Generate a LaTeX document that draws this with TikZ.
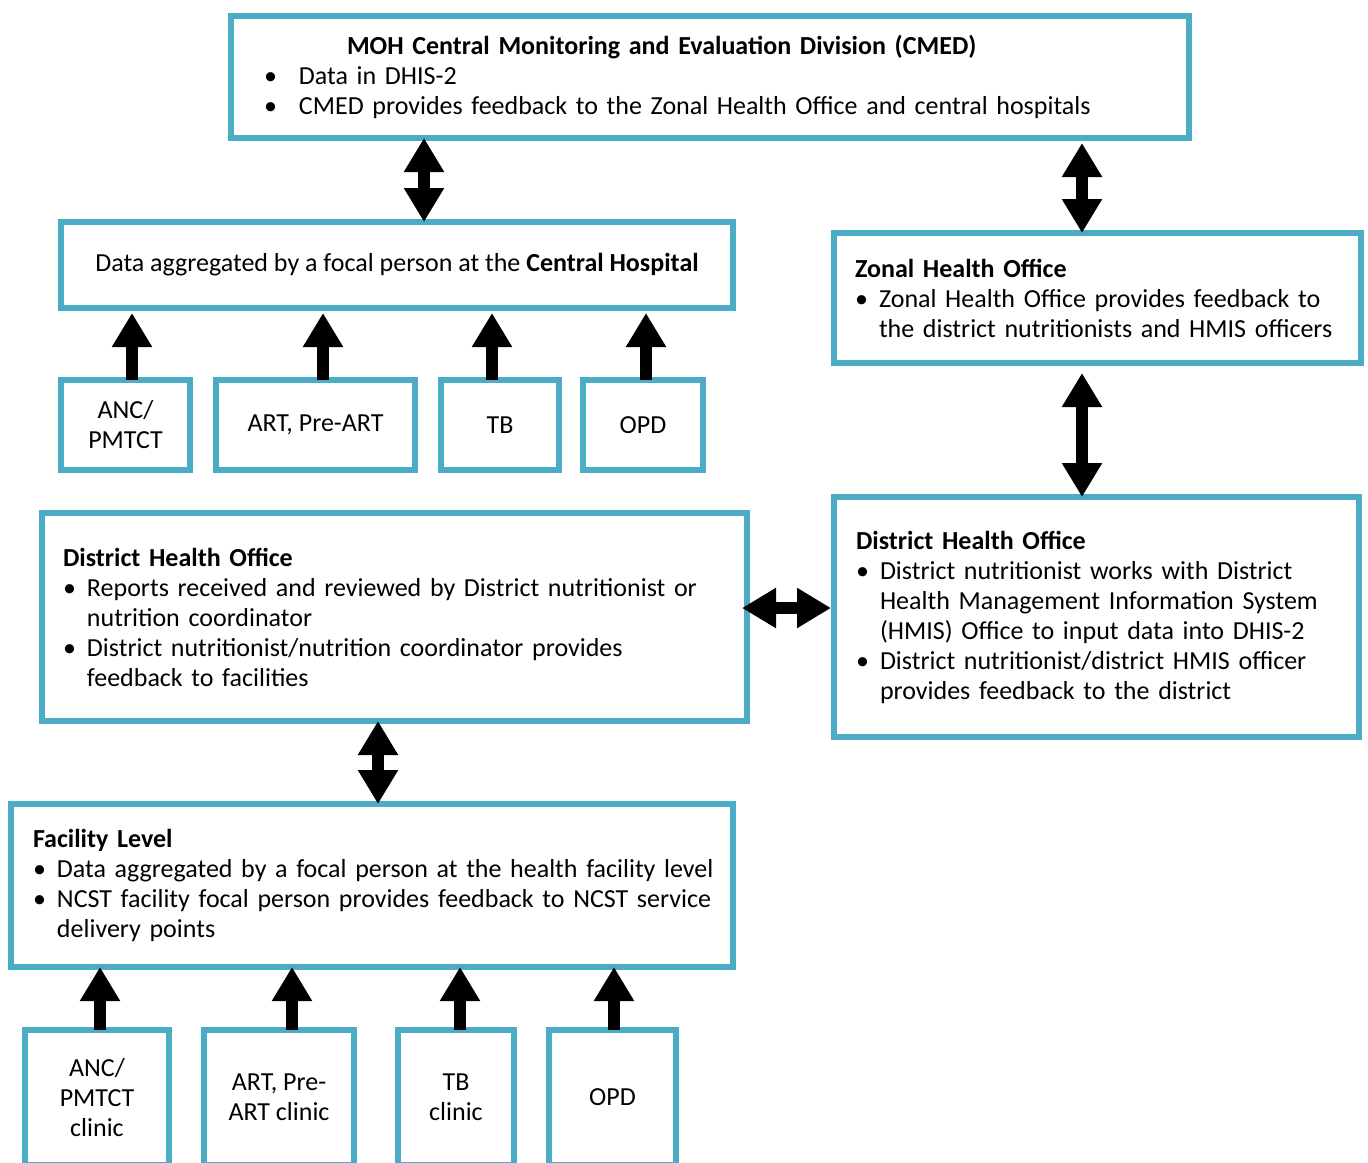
\documentclass[tikz,border=0pt]{standalone}
\usepackage{fontspec}
\setmainfont{Carlito}
\usetikzlibrary{arrows.meta}
\definecolor{boxblue}{RGB}{75,172,198}
\hyphenpenalty=10000
\newcommand{\bul}{\makebox[24pt][l]{\textbullet}}
\newcommand{\ind}{\hspace*{24pt}}
\tikzset{
  panel/.style={draw=boxblue, line width=6pt, fill=white, inner xsep=21pt, inner ysep=0pt,
                outer sep=0pt, align=left, font=\fontsize{26}{30}\selectfont},
  unit/.style={panel, inner xsep=0pt, align=center},
  flow/.style={line width=12pt, -{Triangle[width=38pt,length=34pt]}},
  twoway/.style={line width=12pt, {Triangle[width=38pt,length=34pt]}-{Triangle[width=38pt,length=34pt]}}
}

\begin{document}
\begin{tikzpicture}[x=1pt, y=-1pt]
  \useasboundingbox (0,0) rectangle (1368,1162);
  % upper level
  \node[panel, inner xsep=33pt, text width=892pt, minimum height=122pt] (cmed) at (710,77)
     {\hspace*{83pt}\textbf{MOH Central Monitoring and Evaluation Division (CMED)}\\
      \makebox[35pt][l]{\textbullet}Data in DHIS-2\\
      \makebox[35pt][l]{\textbullet}CMED provides feedback to the Zonal Health Office and central hospitals};
  \node[unit, minimum width=672pt, minimum height=86pt] (central) at (397,265)
     {Data aggregated by a focal person at the \textbf{Central Hospital}};
  \node[panel, text width=485pt, minimum height=130pt] (zonal) at (1097.5,298)
     {\textbf{Zonal Health Office}\\
      \bul Zonal Health Office provides feedback to\\
      \ind the district nutritionists and HMIS officers};
  % hospital service points
  \node[unit, minimum width=129pt, minimum height=90pt] (anc) at (125.5,425) {ANC/\\PMTCT};
  \node[unit, minimum width=199pt, minimum height=90pt] (art) at (315.5,425) {ART, Pre-ART};
  \node[unit, minimum width=118pt, minimum height=90pt] (tb)  at (500,425)   {TB};
  \node[unit, minimum width=120pt, minimum height=90pt] (opd) at (643,425)   {OPD};
  % district level
  \node[panel, text width=663pt, minimum height=208pt] (dleft) at (394.5,617)
     {\textbf{District Health Office}\\
      \bul Reports received and reviewed by District nutritionist or\\
      \ind nutrition coordinator\\
      \bul District nutritionist/nutrition coordinator provides\\
      \ind feedback to facilities};
  \node[panel, inner xsep=22pt, text width=481pt, minimum height=240pt] (dright) at (1096.5,617)
     {\textbf{District Health Office}\\
      \bul District nutritionist works with District\\
      \ind Health Management Information System\\
      \ind (HMIS) Office to input data into DHIS-2\\
      \bul District nutritionist/district HMIS officer\\
      \ind provides feedback to the district};
  % facility level
  \node[panel, inner xsep=22pt, text width=678pt, minimum height=163pt] (fac) at (372,885.5)
     {\textbf{Facility Level}\\
      \mbox{\bul Data aggregated by a focal person at the health facility level}\\
      \mbox{\bul NCST facility focal person provides feedback to NCST service}\\
      \ind delivery points};
  \node[unit, minimum width=144pt, minimum height=135pt] (ancc) at (97,1097.5)  {ANC/\\PMTCT\\clinic};
  \node[unit, minimum width=150pt, minimum height=135pt] (artc) at (279,1097.5) {ART, Pre-\\ART clinic};
  \node[unit, minimum width=116pt, minimum height=135pt] (tbc)  at (456,1097.5) {TB\\clinic};
  \node[unit, minimum width=127pt, minimum height=135pt] (opdc) at (612.5,1097.5) {OPD};
  % arrows
  \draw[twoway] (cmed.south -| 424,0)    -- (central.north -| 424,0);
  \draw[twoway] ([yshift=-5pt]cmed.south -| 1082,0) -- (zonal.north -| 1082,0);
  \draw[twoway] ([yshift=-10pt]zonal.south -| 1082,0) -- (dright.north -| 1082,0);
  \draw[twoway] ([xshift=-5pt]dleft.east |- 0,608) -- ([xshift=-3pt]dright.west |- 0,608);
  \draw[twoway] (dleft.south -| 378,0)   -- (fac.north -| 378,0);
  \foreach \src/\ax in {anc/132, art/323, tb/492, opd/646}
    \draw[flow] (\src.north -| \ax,0) -- ([yshift=-5pt]central.south -| \ax,0);
  \foreach \src/\ax in {ancc/100, artc/292, tbc/460, opdc/614}
    \draw[flow] (\src.north -| \ax,0) -- (fac.south -| \ax,0);
\end{tikzpicture}
\end{document}
